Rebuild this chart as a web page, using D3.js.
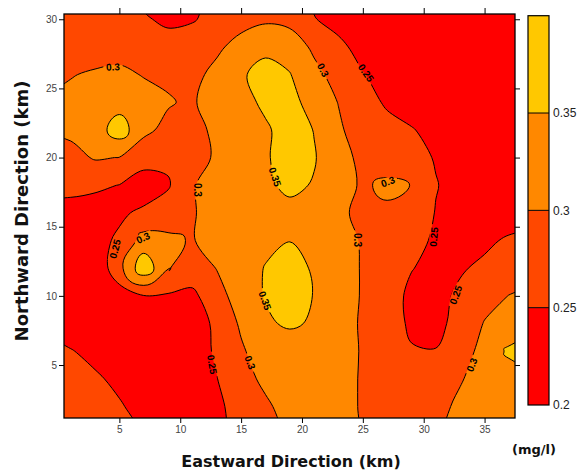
<!DOCTYPE html>
<html>
<head>
<meta charset="utf-8">
<script src="https://cdn.jsdelivr.net/npm/d3@7/dist/d3.min.js"></script>
<style>
  body { margin: 0; background: #fff; }
  svg { display: block; }
</style>
</head>
<body>
<svg id="chart" width="577" height="473"></svg>
<script>
// sample grid: eastward km (columns) and northward km (rows, top row first)
const gridX = [-1, 1, 3, 5, 7, 9, 11, 13, 15, 17, 19, 21, 23, 25, 27, 29, 31, 33, 35, 37, 39]
const gridY = [32, 30, 28, 26, 24, 22, 20, 18, 16, 14, 12, 10, 8, 6, 4, 2, 0]

// concentration (mg/l), one row per gridY value
const conc = [
  [0.28, 0.28, 0.275, 0.265, 0.24, 0.238, 0.24, 0.258, 0.275, 0.285, 0.275, 0.24, 0.23, 0.22, 0.22, 0.22, 0.22, 0.22, 0.22, 0.22, 0.22],
  [0.28, 0.28, 0.278, 0.27, 0.254, 0.243, 0.247, 0.262, 0.28, 0.292, 0.285, 0.252, 0.235, 0.225, 0.22, 0.22, 0.22, 0.22, 0.22, 0.22, 0.22],
  [0.285, 0.285, 0.28, 0.278, 0.275, 0.265, 0.27, 0.29, 0.32, 0.34, 0.33, 0.29, 0.26, 0.235, 0.225, 0.22, 0.22, 0.22, 0.22, 0.22, 0.22],
  [0.29, 0.298, 0.305, 0.312, 0.297, 0.29, 0.285, 0.315, 0.345, 0.365, 0.352, 0.315, 0.28, 0.252, 0.235, 0.225, 0.22, 0.22, 0.22, 0.22, 0.22],
  [0.303, 0.31, 0.325, 0.33, 0.322, 0.305, 0.29, 0.345, 0.338, 0.357, 0.358, 0.34, 0.298, 0.265, 0.245, 0.228, 0.22, 0.22, 0.22, 0.22, 0.22],
  [0.302, 0.31, 0.326, 0.375, 0.313, 0.285, 0.288, 0.308, 0.33, 0.345, 0.365, 0.349, 0.31, 0.266, 0.262, 0.253, 0.235, 0.225, 0.22, 0.22, 0.22],
  [0.29, 0.285, 0.304, 0.299, 0.265, 0.26, 0.288, 0.304, 0.33, 0.345, 0.37, 0.352, 0.33, 0.28, 0.268, 0.265, 0.247, 0.235, 0.225, 0.22, 0.22],
  [0.255, 0.257, 0.258, 0.249, 0.232, 0.245, 0.297, 0.317, 0.335, 0.345, 0.356, 0.348, 0.325, 0.292, 0.312, 0.299, 0.252, 0.235, 0.228, 0.222, 0.22],
  [0.243, 0.241, 0.229, 0.245, 0.256, 0.275, 0.297, 0.315, 0.33, 0.335, 0.342, 0.335, 0.312, 0.285, 0.29, 0.28, 0.248, 0.235, 0.228, 0.222, 0.22],
  [0.235, 0.232, 0.24, 0.255, 0.32, 0.31, 0.296, 0.33, 0.325, 0.34, 0.349, 0.335, 0.322, 0.295, 0.285, 0.27, 0.241, 0.235, 0.24, 0.257, 0.265],
  [0.232, 0.225, 0.21, 0.285, 0.385, 0.302, 0.282, 0.301, 0.33, 0.352, 0.37, 0.344, 0.33, 0.295, 0.28, 0.252, 0.235, 0.245, 0.26, 0.27, 0.275],
  [0.23, 0.225, 0.22, 0.225, 0.248, 0.245, 0.237, 0.288, 0.315, 0.354, 0.375, 0.348, 0.33, 0.295, 0.275, 0.238, 0.235, 0.259, 0.28, 0.301, 0.31],
  [0.235, 0.23, 0.225, 0.22, 0.222, 0.225, 0.235, 0.256, 0.308, 0.34, 0.36, 0.342, 0.325, 0.293, 0.27, 0.243, 0.242, 0.26, 0.303, 0.32, 0.33],
  [0.262, 0.252, 0.24, 0.225, 0.22, 0.22, 0.232, 0.255, 0.2925, 0.33, 0.31, 0.315, 0.32, 0.296, 0.27, 0.253, 0.251, 0.27, 0.322, 0.357, 0.37],
  [0.275, 0.268, 0.255, 0.242, 0.225, 0.22, 0.225, 0.249, 0.278, 0.313, 0.32, 0.315, 0.315, 0.296, 0.275, 0.268, 0.265, 0.295, 0.328, 0.33, 0.335],
  [0.285, 0.28, 0.268, 0.2534, 0.238, 0.228, 0.23, 0.24, 0.27, 0.29, 0.323, 0.32, 0.315, 0.296, 0.28, 0.275, 0.28, 0.313, 0.33, 0.335, 0.34],
  [0.29, 0.285, 0.275, 0.262, 0.247, 0.232, 0.232, 0.237, 0.262, 0.285, 0.305, 0.318, 0.315, 0.296, 0.282, 0.28, 0.29, 0.318, 0.335, 0.34, 0.345]
]

// contour levels and band colours (lowest band first)
const levels = [0.25, 0.3, 0.35]
const bandColors = ['#ff0000', '#ff4800', '#ff8800', '#ffc800']
const barEdges = [0.2, 0.25, 0.3, 0.35, 0.4]
const barTicks = [0.2, 0.25, 0.3, 0.35]

// axis ticks
const xTicks = [5, 10, 15, 20, 25, 30, 35]
const yTicks = [5, 10, 15, 20, 25, 30]

// inline contour labels: text, position (km) and angle (deg)
const labelText = ['0.3', '0.3', '0.25', '0.3', '0.3', '0.25', '0.35', '0.3', '0.3', '0.25', '0.25', '0.3', '0.35', '0.3', '0.25']
const labelX = [4.48, 6.95, 4.65, 11.38, 21.73, 25.25, 17.78, 27.06, 24.6, 30.84, 32.64, 33.96, 16.96, 15.73, 12.61]
const labelY = [26.55, 14.19, 13.39, 17.66, 26.33, 26.12, 18.6, 18.25, 14.04, 14.26, 10.07, 5.01, 9.66, 5.18, 5.04]
const labelAngle = [-3, -25, -75, 90, 62, 55, 72, -20, 90, -85, -70, -70, 70, 70, 80]

const svg = d3.select('#chart')
const plot = { left: 64, top: 14, right: 515, bottom: 418 }

const x = d3.scaleLinear().domain([0.45, 37.5]).range([plot.left, plot.right])
const y = d3.scaleLinear().domain([1.17, 30.38]).range([plot.bottom, plot.top])

// grid index -> km
const nx = gridX.length
const ny = gridY.length
const ix = d3.scaleLinear().domain([0, nx - 1]).range([gridX[0], gridX[nx - 1]])
const iy = d3.scaleLinear().domain([0, ny - 1]).range([gridY[0], gridY[ny - 1]])

const contours = d3.contours().size([nx, ny]).thresholds(levels)(conc.flat())

// long rings: catmull-rom; tiny rings (single peaks): looser cardinal so they come out round
const ringLine = d3.line()
    .x(p => x(ix(p[0] - 0.5)))
    .y(p => y(iy(p[1] - 0.5)))
const smoothRing = r => {
    const pts = r.slice(0, -1)
    ringLine.curve(pts.length <= 8
        ? d3.curveCardinalClosed.tension(-0.55)
        : d3.curveCatmullRomClosed.alpha(0.5))
    return ringLine(pts)
}

const contourPath = c => c.coordinates
    .map(poly => poly.map(smoothRing).join(''))
    .join('')

const defs = svg.append('defs')
defs.append('clipPath').attr('id', 'plotClip')
    .append('rect')
    .attr('x', plot.left).attr('y', plot.top)
    .attr('width', plot.right - plot.left).attr('height', plot.bottom - plot.top)

// mask so contour lines break under their labels
const mask = defs.append('mask').attr('id', 'labelMask')
mask.append('rect').attr('width', 577).attr('height', 473).attr('fill', '#fff')
mask.selectAll('rect.hole')
    .data(labelText)
    .join('rect')
    .attr('class', 'hole')
    .attr('x', d => -d.length * 2.9 - 1)
    .attr('y', -4.5)
    .attr('width', d => d.length * 5.8 + 2)
    .attr('height', 9)
    .attr('fill', '#000')
    .attr('transform', (d, i) => `translate(${x(labelX[i])},${y(labelY[i])}) rotate(${labelAngle[i]})`)

const map = svg.append('g').attr('clip-path', 'url(#plotClip)')

// lowest band as the base, then each level on top
map.append('rect')
    .attr('x', plot.left).attr('y', plot.top)
    .attr('width', plot.right - plot.left).attr('height', plot.bottom - plot.top)
    .attr('fill', bandColors[0])

map.selectAll('path.band')
    .data(contours)
    .join('path')
    .attr('class', 'band')
    .attr('d', contourPath)
    .attr('fill', (d, i) => bandColors[i + 1])
    .attr('fill-rule', 'evenodd')

map.append('g')
    .attr('mask', 'url(#labelMask)')
    .selectAll('path')
    .data(contours)
    .join('path')
    .attr('d', contourPath)
    .attr('fill', 'none')
    .attr('stroke', '#000')
    .attr('stroke-width', 1)

map.selectAll('text.lbl')
    .data(labelText)
    .join('text')
    .attr('class', 'lbl')
    .attr('transform', (d, i) => `translate(${x(labelX[i])},${y(labelY[i])}) rotate(${labelAngle[i]})`)
    .attr('text-anchor', 'middle')
    .attr('dy', '0.35em')
    .attr('font-family', 'Liberation Sans, Arial, sans-serif')
    .attr('font-weight', 'bold')
    .attr('font-size', 10)
    .attr('fill', '#000')
    .text(d => d)

// axes
const tickStyle = g => {
    g.select('.domain').remove()
    g.selectAll('line').attr('stroke', '#000')
    g.selectAll('text')
        .attr('font-family', 'Liberation Sans, Arial, sans-serif')
        .attr('font-size', 10)
        .attr('fill', '#444')
}

svg.append('g')
    .attr('transform', `translate(0,${plot.bottom})`)
    .call(d3.axisBottom(x).tickValues(xTicks).tickSize(5).tickPadding(3))
    .call(tickStyle)

svg.append('g')
    .attr('transform', `translate(0,${plot.top})`)
    .call(d3.axisTop(x).tickValues(xTicks).tickSize(6).tickFormat(''))
    .call(tickStyle)

svg.append('g')
    .attr('transform', `translate(${plot.left},0)`)
    .call(d3.axisLeft(y).tickValues(yTicks).tickSize(5).tickPadding(2))
    .call(tickStyle)

svg.append('g')
    .attr('transform', `translate(${plot.right},0)`)
    .call(d3.axisRight(y).tickValues(yTicks).tickSize(5).tickFormat(''))
    .call(tickStyle)

svg.append('rect')
    .attr('x', plot.left).attr('y', plot.top)
    .attr('width', plot.right - plot.left).attr('height', plot.bottom - plot.top)
    .attr('fill', 'none')
    .attr('stroke', '#000')
    .attr('stroke-width', 1.3)

// titles
svg.append('text')
    .attr('x', 291).attr('y', 467)
    .attr('text-anchor', 'middle')
    .attr('font-family', 'DejaVu Sans, sans-serif')
    .attr('font-weight', 'bold')
    .attr('font-size', 16)
    .attr('fill', '#111')
    .text('Eastward Direction (km)')

svg.append('text')
    .attr('transform', 'translate(28,211) rotate(-90)')
    .attr('text-anchor', 'middle')
    .attr('font-family', 'DejaVu Sans, sans-serif')
    .attr('font-weight', 'bold')
    .attr('font-size', 18)
    .attr('fill', '#111')
    .text('Northward Direction (km)')

svg.append('text')
    .attr('x', 534).attr('y', 454)
    .attr('text-anchor', 'middle')
    .attr('font-family', 'DejaVu Sans, sans-serif')
    .attr('font-weight', 'bold')
    .attr('font-size', 13)
    .attr('fill', '#111')
    .text('(mg/l)')

// colour bar
const bar = { left: 528, right: 549 }
const c = d3.scaleLinear().domain([0.2, 0.4]).range([405, 15.7])
const cb = svg.append('g')

cb.selectAll('rect.seg')
    .data(d3.pairs(barEdges))
    .join('rect')
    .attr('class', 'seg')
    .attr('x', bar.left)
    .attr('width', bar.right - bar.left)
    .attr('y', d => c(d[1]))
    .attr('height', d => c(d[0]) - c(d[1]))
    .attr('fill', (d, i) => bandColors[i])

cb.selectAll('line.edge')
    .data(levels)
    .join('line')
    .attr('class', 'edge')
    .attr('x1', bar.left).attr('x2', bar.right)
    .attr('y1', d => c(d)).attr('y2', d => c(d))
    .attr('stroke', '#000')

cb.append('rect')
    .attr('x', bar.left).attr('y', c(0.4))
    .attr('width', bar.right - bar.left).attr('height', c(0.2) - c(0.4))
    .attr('fill', 'none')
    .attr('stroke', '#000')
    .attr('stroke-width', 1.2)

cb.append('g')
    .attr('transform', `translate(${bar.right},0)`)
    .call(d3.axisRight(c).tickValues(barTicks).tickSize(0).tickPadding(4)
        .tickFormat(d => String(+d.toFixed(2))))
    .call(g => {
        g.select('.domain').remove()
        g.selectAll('text')
            .attr('font-family', 'Liberation Sans, Arial, sans-serif')
            .attr('font-size', 12)
            .attr('fill', '#222')
    })
</script>
</body>
</html>
